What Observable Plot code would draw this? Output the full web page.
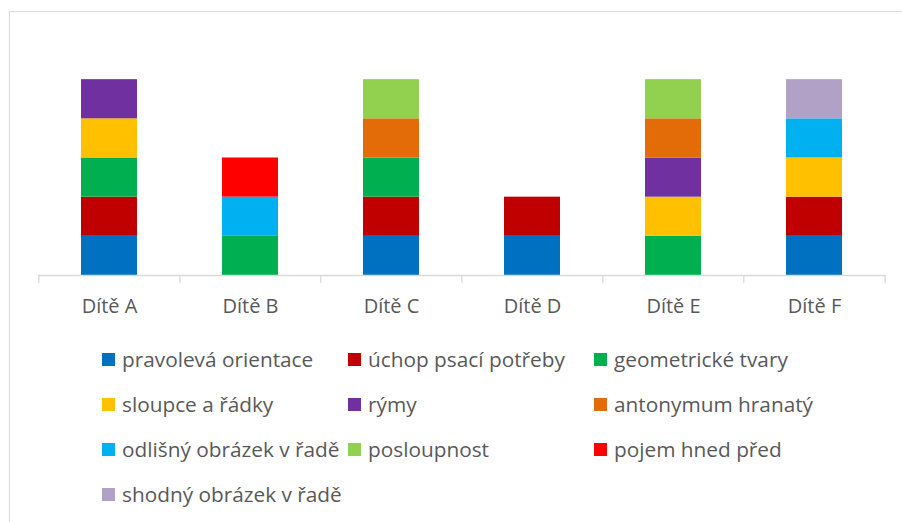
<!DOCTYPE html>
<html>
<head>
<meta charset="utf-8">
<script src="https://cdn.jsdelivr.net/npm/d3@7"></script>
<script src="https://cdn.jsdelivr.net/npm/@observablehq/plot@0.6"></script>
<style>
  html, body { margin: 0; padding: 0; background: #fff; }
  body { width: 902px; height: 522px; position: relative; overflow: hidden; font-family: "Open Sans", sans-serif; }
  #frame { position: absolute; left: 9px; top: 11px; width: 1000px; height: 1000px; border: 1px solid #d9d9d9; box-sizing: border-box; }
  #chart { position: absolute; left: 0; top: 0; }
  #legend { position: absolute; left: 102px; top: 346px; display: grid; grid-template-columns: 246px 246px 246px; grid-auto-rows: 45px; font-size: 20.8px; color: #595959; }
  .item { display: flex; align-items: flex-start; white-space: nowrap; line-height: 26px; }
  .sw { width: 13px; height: 13px; margin-right: 7px; margin-top: 7px; flex: none; }
</style>
</head>
<body>
<div id="frame"></div>
<div id="chart"></div>
<div id="legend"></div>
<script>
const children = ["Dítě A", "Dítě B", "Dítě C", "Dítě D", "Dítě E", "Dítě F"];
const seriesNames = [
  "pravolevá orientace", "úchop psací potřeby", "geometrické tvary",
  "sloupce a řádky", "rýmy", "antonymum hranatý",
  "odlišný obrázek v řadě", "posloupnost", "pojem hned před",
  "shodný obrázek v řadě"
];
const seriesColors = [
  "#0070C0", "#C00000", "#00B050",
  "#FFC000", "#7030A0", "#E36C09",
  "#00B0F0", "#92D050", "#FF0000",
  "#B2A1C7"
];
// values per child (A..F)
const pravolevaOrientace   = [1, 0, 1, 1, 0, 1];
const uchopPsaciPotreby    = [1, 0, 1, 1, 0, 1];
const geometrickeTvary     = [1, 1, 1, 0, 1, 0];
const sloupceARadky        = [1, 0, 0, 0, 1, 1];
const rymy                 = [1, 0, 0, 0, 1, 0];
const antonymumHranaty     = [0, 0, 1, 0, 1, 0];
const odlisnyObrazek       = [0, 1, 0, 0, 0, 1];
const posloupnost          = [0, 0, 1, 0, 1, 0];
const pojemHnedPred        = [0, 1, 0, 0, 0, 0];
const shodnyObrazek        = [0, 0, 0, 0, 0, 1];
const seriesValues = [
  pravolevaOrientace, uchopPsaciPotreby, geometrickeTvary,
  sloupceARadky, rymy, antonymumHranaty,
  odlisnyObrazek, posloupnost, pojemHnedPred, shodnyObrazek
];

const rows = [];
children.forEach((c, ci) => {
  seriesNames.forEach((s, si) => {
    if (seriesValues[si][ci]) rows.push({child: c, series: s, value: seriesValues[si][ci]});
  });
});

const W = 902, H = 330, mL = 38, mR = 16, mT = 40, mB = 55;
const step = (W - mL - mR) / children.length;
const textColor = "#595959";

const chart = Plot.plot({
  width: W, height: H,
  marginLeft: mL, marginRight: mR, marginTop: mT, marginBottom: mB,
  style: {fontFamily: "'Open Sans', sans-serif", fontSize: "20px", color: textColor, background: "transparent"},
  x: {domain: children, paddingInner: 0.6, paddingOuter: 0.3, label: null, axis: null},
  y: {domain: [0, 6], axis: null},
  color: {domain: seriesNames, range: seriesColors},
  marks: [
    Plot.barY(rows, {x: "child", y: "value", fill: "series", order: null}),
    Plot.ruleY([0], {stroke: "#d9d9d9", strokeWidth: 1.3}),
    Plot.ruleX(children, {x: d => d, y1: 0, y2: 0, insetBottom: -8, dx: -step / 2, stroke: "#d9d9d9", strokeWidth: 1.3}),
    Plot.ruleX([children[children.length - 1]], {x: d => d, y1: 0, y2: 0, insetBottom: -8, dx: step / 2, stroke: "#d9d9d9", strokeWidth: 1.3}),
    Plot.axisX({tickSize: 0, tickPadding: 23, fill: textColor, fontSize: 20, label: null})
  ]
});
document.getElementById("chart").appendChild(chart);

const legend = document.getElementById("legend");
seriesNames.forEach((s, i) => {
  const item = document.createElement("div");
  item.className = "item";
  const sw = document.createElement("span");
  sw.className = "sw";
  sw.style.background = seriesColors[i];
  const t = document.createElement("span");
  t.textContent = s;
  item.appendChild(sw);
  item.appendChild(t);
  legend.appendChild(item);
});
</script>
</body>
</html>
